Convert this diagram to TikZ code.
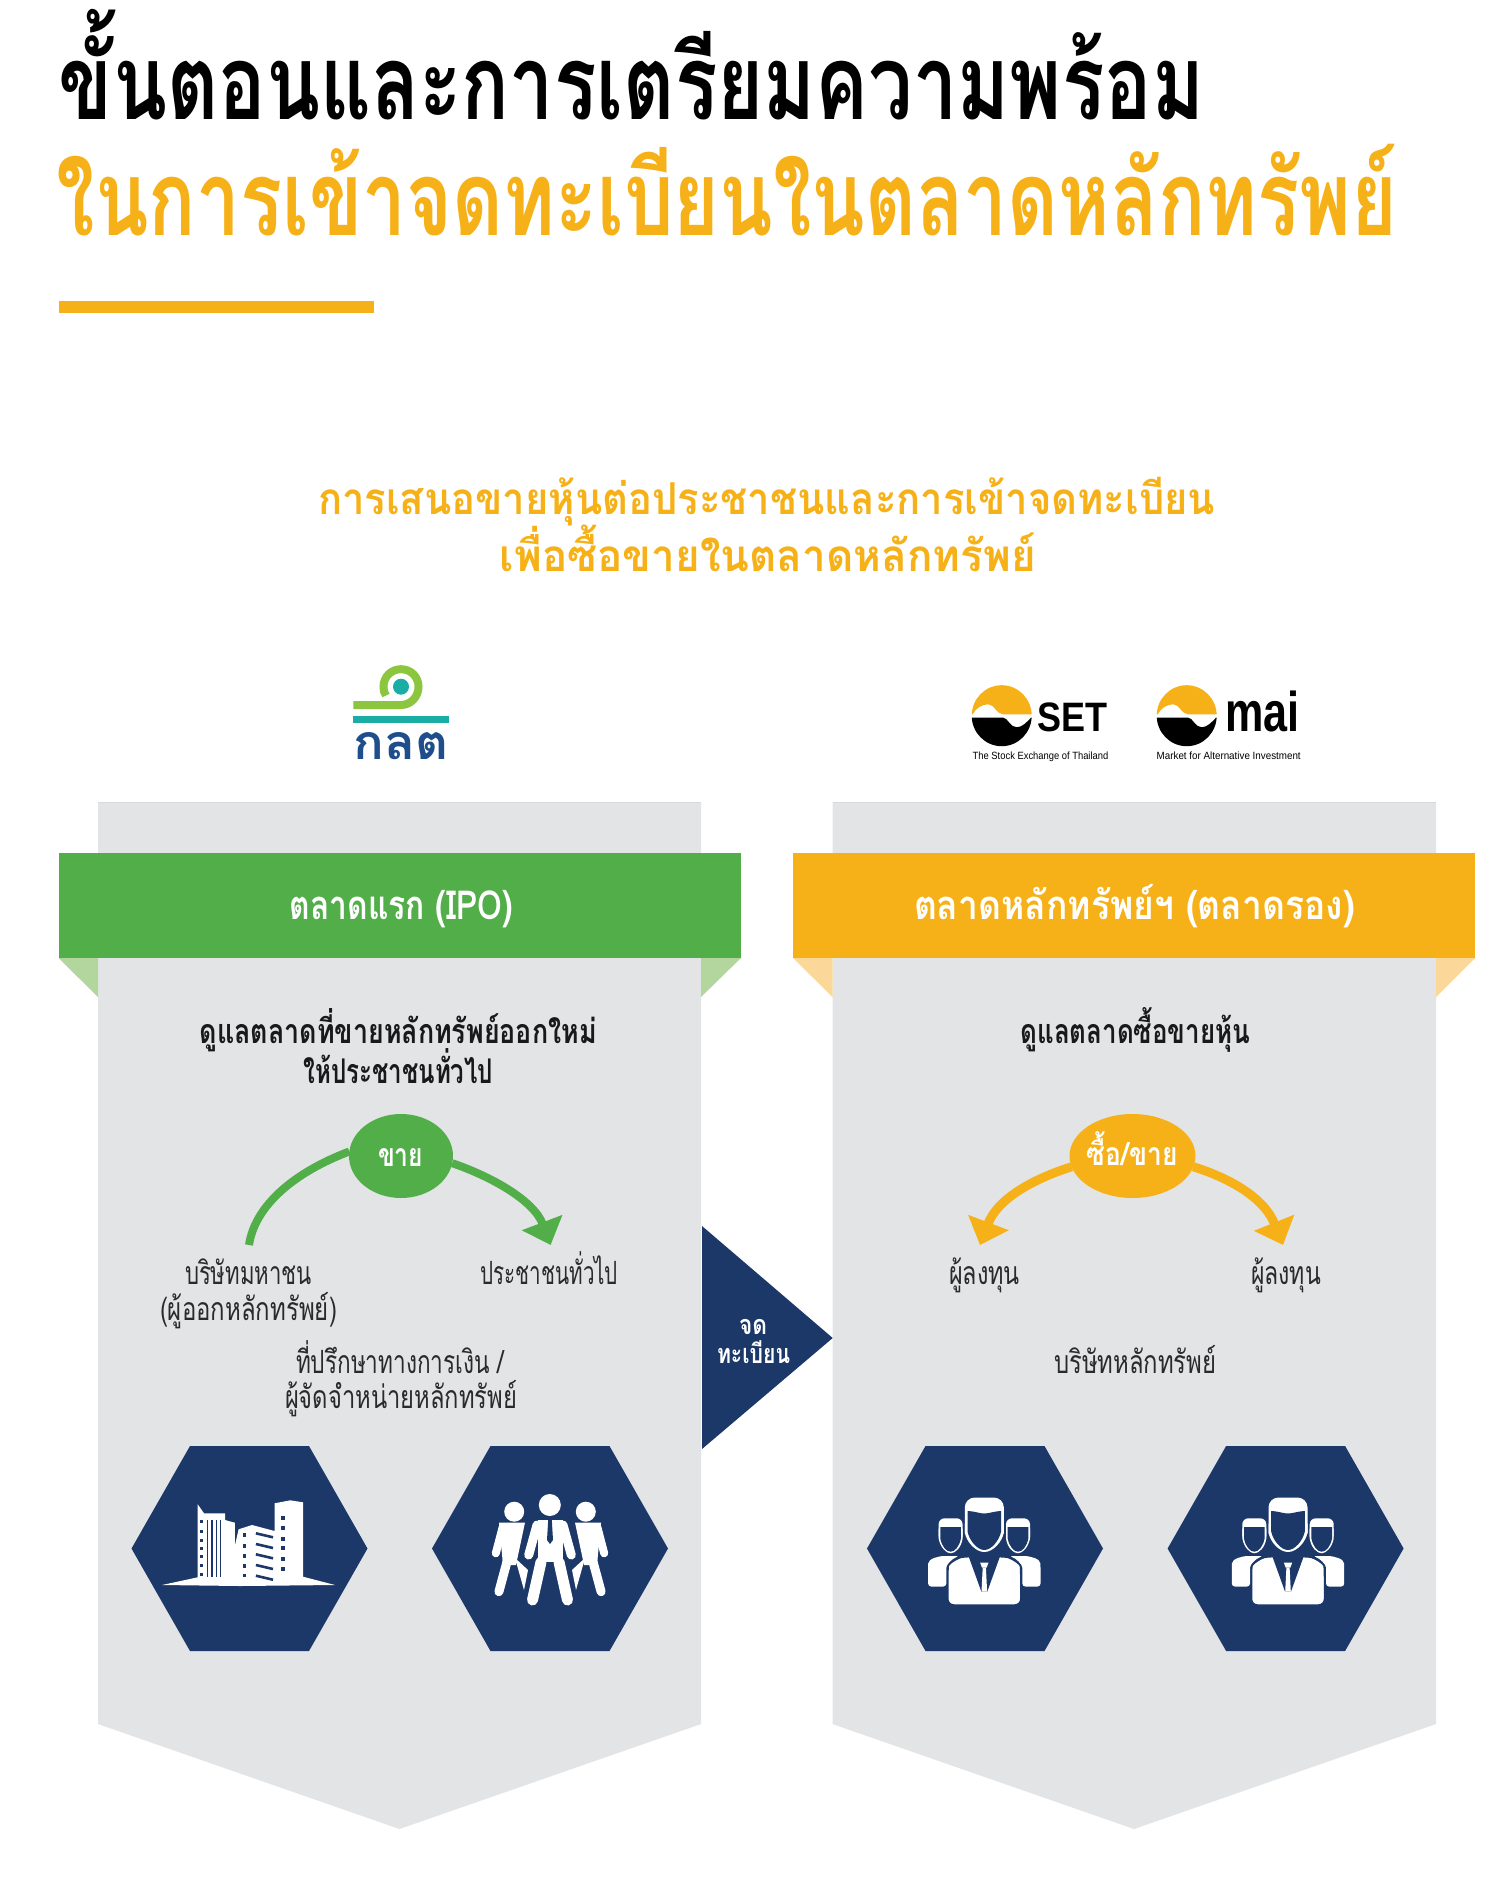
\documentclass[tikz,border=0pt]{standalone}
\usepackage{fontspec}
\usepackage{graphicx}
\usetikzlibrary{shapes.geometric,arrows.meta}
\newfontfamily\thai[Script=Thai]{Loma}
\newfontfamily\latinf{Liberation Sans}
\definecolor{cgreen}{HTML}{52AE49}
\definecolor{corange}{HTML}{F7B118}
\definecolor{cnavy}{HTML}{1B3869}
\definecolor{cgrey}{HTML}{E3E4E6}
\definecolor{cgreenl}{HTML}{B3D69E}
\definecolor{corangel}{HTML}{FBD89A}
\definecolor{cswirl}{HTML}{8CC63F}
\definecolor{cteal}{HTML}{1AADA5}
\definecolor{cblue}{HTML}{1E4E8C}
\definecolor{cdark}{HTML}{2A2A2A}
% width in px, font size in px, text
\newcommand{\fitw}[3]{\resizebox{#1pt}{\height}{\fontsize{#2pt}{#2pt}\selectfont #3}}
\tikzset{
  txt/.style={anchor=base,inner sep=0pt,outer sep=0pt},
  pillnode/.style={ellipse,inner sep=0pt,outer sep=0pt},
  hexa/.pic={\fill[cnavy] (-118,0)--(-59.5,-102.5)--(59.5,-102.5)--(118,0)--(59.5,102.5)--(-59.5,102.5)--cycle;},
  biz/.pic={
    % side persons
    \foreach \s in {-1,1}{
      \fill[white,rounded corners=6pt] (\s*21.7,-12) -- (\s*21.7,-30.2) -- (\s*45.7,-30.2) -- (\s*45.7,-12);
      \fill[white] (\s*21.7,-20) -- (\s*45.7,-20) -- (\s*45.7,-10) .. controls (\s*44,-1) and (\s*38,4.8) .. (\s*33.7,4.8) .. controls (\s*29,4.8) and (\s*23,-1) .. (\s*21.7,-10) -- cycle;
      \fill[cnavy] (\s*23.4,-21.5) -- (\s*44,-21.5) -- (\s*44,-10) .. controls (\s*42.5,-2) and (\s*38,3.2) .. (\s*33.7,3.2) .. controls (\s*29.5,3.2) and (\s*25,-2) .. (\s*23.4,-10) -- cycle;
      \fill[white,rounded corners=3pt] (\s*56.2,38) -- (\s*56.2,18) .. controls (\s*56,10) and (\s*45,7.5) .. (\s*37,7.5) -- (\s*25,7.5) .. controls (\s*32,10) and (\s*38,16) .. (\s*38,22) -- (\s*38,38) -- cycle;
    }
    % main head
    \fill[white,rounded corners=10pt] (-19.5,-15) -- (-19.5,-51) -- (19.5,-51) -- (19.5,-15);
    \fill[white] (-19.5,-25) -- (19.5,-25) -- (19.5,-16) .. controls (18,-7) and (9,3.5) .. (0,3.5) .. controls (-9,3.5) and (-18,-7) .. (-19.5,-16) -- cycle;
    \fill[cnavy] (-16.8,-37.5) .. controls (-8,-37) and (-5,-35) .. (0,-35) .. controls (5,-35) and (8,-37) .. (16.8,-37.5) -- (16.8,-17) .. controls (15,-8) and (7,1.5) .. (0,1.5) .. controls (-7,1.5) and (-15,-8) .. (-16.8,-17) -- cycle;
    % main body
    \path[draw=cnavy,line width=1.5pt,fill=white,rounded corners=6pt] (-36.5,56.5) -- (-36.5,24) .. controls (-36,15) and (-26,9) .. (-16,8) -- (16,8) .. controls (26,9) and (36,15) .. (36.5,24) -- (36.5,56.5) -- cycle;
    \fill[cnavy] (-16,7) -- (16,7) -- (3,43) -- (-3,43) -- cycle;
    \fill[white] (-4.2,14) -- (4.2,14) -- (2.4,19) -- (-2.4,19) -- cycle;
    \fill[white] (-1.6,19) -- (1.6,19) -- (2.8,43) -- (-2.8,43) -- cycle;
  }
}
\begin{document}
\begin{tikzpicture}[x=1pt,y=-1pt]
\useasboundingbox (0,0) rectangle (1500,1881);
\fill[white] (0,0) rectangle (1500,1881);

% titles
\node[txt,text=black] (t1) at (631.5,120) {\fitw{1145}{104}{\thai\bfseries ขั้นตอนและการเตรียมความพร้อม}};
\node[txt,text=corange] (t2) at (727,235) {\fitw{1340}{104}{\thai\bfseries ในการเข้าจดทะเบียนในตลาดหลักทรัพย์}};
\fill[corange] (59,301) rectangle (374,313);
\node[txt,text=corange] (s1) at (766.5,514) {\fitw{897}{44}{\thai\bfseries การเสนอขายหุ้นต่อประชาชนและการเข้าจดทะเบียน}};
\node[txt,text=corange] (s2) at (768,571) {\fitw{536}{44}{\thai\bfseries เพื่อซื้อขายในตลาดหลักทรัพย์}};

% SEC logo
\draw[cswirl,line width=8pt] (353.3,705) -- (401,705) .. controls (410.9,705) and (418.5,696.6) .. (418.5,686.7) .. controls (418.5,676.8) and (410.9,669.2) .. (401,669.2) .. controls (391.1,669.2) and (383.5,676.8) .. (383.5,686.7) .. controls (383.5,690) and (384,693) .. (386,695.5);
\fill[cteal] (401,686.7) circle[radius=8];
\fill[cteal] (353.3,716) rectangle (449,723.3);
\node[txt,text=cblue] (seclogo) at (401,759) {\resizebox{95pt}{27pt}{\thai\bfseries กลต}};

% SET and mai logos
\foreach \dx/\nm in {0/a,185/b}{
  \begin{scope}[shift={(\dx,0)}]
    \begin{scope}
      \clip (1001.7,715.7) ellipse[x radius=30,y radius=30.5];
      \fill[corange] (965,714.3) -- (972.7,714.3) .. controls (976,708) and (982,704.3) .. (988.3,704.3) .. controls (994,704.3) and (997,714.3) .. (1003,714.3) -- (1040,714.3) -- (1040,680) -- (965,680) -- cycle;
      \fill[black] (965,717.7) -- (1003.3,717.7) .. controls (1008,718) and (1010,727.3) .. (1016.7,727.3) .. controls (1022,727.3) and (1027,722) .. (1031,717.7) -- (1040,717.7) -- (1040,750) -- (965,750) -- cycle;
    \end{scope}
  \end{scope}
}
\node[txt,anchor=base west] (setword) at (1037.3,731) {\resizebox{70pt}{28.7pt}{\latinf\bfseries SET}};
\node[txt,anchor=base west] (setcap) at (972.7,759) {\fitw{135.6}{10.5}{\latinf The Stock Exchange of Thailand}};
\node[txt,anchor=base west] (maiword) at (1225,731) {\resizebox{74.3pt}{\height}{\fontsize{56pt}{56pt}\selectfont\latinf\bfseries mai}};
\node[txt,anchor=base west] (maicap) at (1156.7,759) {\fitw{144}{10.5}{\latinf Market for Alternative Investment}};

% panels
\fill[cgrey] (98,802) -- (701,802) -- (701,1724) -- (399.5,1829) -- (98,1724) -- cycle;
\fill[cgrey] (832.5,802) -- (1436,802) -- (1436,1724) -- (1134,1829) -- (832.5,1724) -- cycle;
\draw[black!15,line width=1pt] (98,802) -- (701,802);
\draw[black!15,line width=1pt] (832.5,802) -- (1436,802);

% fold triangles
\fill[cgreenl] (58.5,958) -- (98,958) -- (98,997) -- cycle;
\fill[cgreenl] (741,958) -- (701,958) -- (701,997) -- cycle;
\fill[corangel] (793,958) -- (832.5,958) -- (832.5,997) -- cycle;
\fill[corangel] (1475,958) -- (1436,958) -- (1436,997) -- cycle;

% banners
\fill[cgreen] (58.5,852.7) rectangle (741,958);
\fill[corange] (793,852.7) rectangle (1475,958);
\node[txt,text=white] (b1) at (401.5,919) {\fitw{223}{40}{\thai\bfseries ตลาดแรก (IPO)}};
\node[txt,text=white] (b2) at (1134.5,919) {\fitw{441}{40}{\thai\bfseries ตลาดหลักทรัพย์ฯ (ตลาดรอง)}};

% panel headings
\node[txt,text=cdark!60!black] (h1) at (398.3,1043) {\fitw{397}{34}{\thai\bfseries ดูแลตลาดที่ขายหลักทรัพย์ออกใหม่}};
\node[txt,text=cdark!60!black] (h2) at (398.3,1083) {\fitw{189.5}{34}{\thai\bfseries ให้ประชาชนทั่วไป}};
\node[txt,text=cdark!60!black] (h3) at (1135.3,1043) {\fitw{229.5}{34}{\thai\bfseries ดูแลตลาดซื้อขายหุ้น}};

% flow bubbles and arrows
\node[pillnode,fill=cgreen,minimum width=104pt,minimum height=84pt] (sell) at (401,1156) {};
\node[pillnode,fill=corange,minimum width=126pt,minimum height=84pt] (trade) at (1132.5,1156) {};
\coordinate (corpend) at (249,1245);
\coordinate (pubtip) at (550.6,1245);
\coordinate (invl) at (980,1245);
\coordinate (invr) at (1283,1245);
\draw[cgreen,line width=8pt] (sell.175) .. controls (295,1172) and (255,1205) .. (corpend);
\draw[cgreen,line width=8pt,-{Triangle[length=24pt,width=42pt]}] (sell.-8) .. controls (490,1176) and (533.6,1200) .. (pubtip);
\draw[corange,line width=9pt,-{Triangle[length=24pt,width=42pt]}] (trade.190) .. controls (1030,1180) and (997,1200) .. (invl);
\draw[corange,line width=9pt,-{Triangle[length=24pt,width=42pt]}] (trade.-10) .. controls (1235,1180) and (1265,1200) .. (invr);
\node[txt,text=white] (sellt) at (400.5,1166) {\fitw{45}{32}{\thai\bfseries ขาย}};
\node[txt,text=white] (tradet) at (1132.2,1165) {\fitw{90.5}{32}{\thai\bfseries ซื้อ/ขาย}};

% labels left
\node[txt,text=cdark] (l1) at (248.5,1284) {\fitw{127}{32}{\thai บริษัทมหาชน}};
\node[txt,text=cdark] (l2) at (248.5,1320) {\fitw{177}{32}{\thai (ผู้ออกหลักทรัพย์)}};
\node[txt,text=cdark] (l3) at (549.3,1284) {\fitw{137.4}{32}{\thai ประชาชนทั่วไป}};
\node[txt,text=cdark] (l4) at (400,1373) {\fitw{208}{32}{\thai ที่ปรึกษาทางการเงิน /}};
\node[txt,text=cdark] (l5) at (401,1408) {\fitw{232}{32}{\thai ผู้จัดจำหน่ายหลักทรัพย์}};
% labels right
\node[txt,text=cdark] (r1) at (984.5,1284) {\fitw{71}{32}{\thai ผู้ลงทุน}};
\node[txt,text=cdark] (r2) at (1286,1284) {\fitw{70}{32}{\thai ผู้ลงทุน}};
\node[txt,text=cdark] (r3) at (1135.3,1373) {\fitw{162.5}{32}{\thai บริษัทหลักทรัพย์}};

% listing triangle
\fill[cnavy] (702,1226) -- (832.7,1338) -- (702,1449) -- cycle;
\node[txt,text=white] (k1) at (753,1334) {\fitw{28}{27}{\thai\bfseries จด}};
\node[txt,text=white] (k2) at (753.5,1363) {\fitw{73}{27}{\thai\bfseries ทะเบียน}};

% hexagons
\pic at (249.5,1548.5) {hexa};
\pic at (550,1548.5) {hexa};
\pic at (985,1548.5) {hexa};
\pic at (1285.6,1548.5) {hexa};

% building icon
\fill[white] (162,1585) -- (197.7,1577.3) -- (197.7,1504.3) -- (204,1513.3) -- (225,1513.3) -- (225,1520) -- (234.8,1522.7) -- (234.8,1546) -- (238.6,1529.3) -- (252,1525) -- (274.6,1531) -- (274.6,1503.3) -- (290.3,1500.3) -- (303,1502.3) -- (303,1576.7) -- (335,1585) -- (240,1586) -- cycle;
\foreach \yy in {1521.7,1531,1540,1548.3,1556.7,1565,1574}{\fill[cnavy] (199.5,\yy-1.5) rectangle ++(3,3);}
\foreach \xx in {207.3,211.8,216.4,220.6}{\fill[cnavy] (\xx-0.8,1520) rectangle (\xx+0.8,1577);}
\foreach \yy in {1535,1545.7,1556,1565.7,1575.3}{\fill[cnavy] (242.6,\yy-1.8) rectangle ++(3.6,3.6);}
\foreach \yy in {1533.3,1544,1554.3,1565,1575.7}{\draw[cnavy,line width=2.6pt] (255.9,\yy) -- (273,\yy+4);}
\foreach \yy in {1518.3,1528.3,1539,1548.3,1559,1569}{\fill[cnavy] (280.6,\yy-2) rectangle ++(4,4);}

% walking people icon
\foreach \s/\cx in {1/550,-1/550}{
  \begin{scope}[line cap=round,white]
    \fill[white] ({\cx+\s*(514.2-550)},1511.7) circle[radius=10];
    \draw[line width=8pt] ({\cx+\s*(502.7-550)},1527) -- ({\cx+\s*(495.8-550)},1553.3);
    \fill[white] ({\cx+\s*(499-550)},1522.5) -- ({\cx+\s*(525-550)},1522.5) -- ({\cx+\s*(516-550)},1565) -- ({\cx+\s*(503-550)},1565) -- cycle;
    \draw[line width=9pt] ({\cx+\s*(508-550)},1558) -- ({\cx+\s*(498.9-550)},1591.7);
    \fill[white] ({\cx+\s*(515-550)},1558) -- ({\cx+\s*(524-550)},1590) -- ({\cx+\s*(528-550)},1570) -- cycle;
  \end{scope}
}
\begin{scope}[line cap=round]
  \fill[white] (549.8,1505) circle[radius=11];
  \foreach \s in {-1,1}{
    \draw[cnavy,line width=13pt] ({550+\s*13},1525) -- ({550+\s*21.3},1555);
    \draw[white,line width=9pt] ({550+\s*13},1525) -- ({550+\s*21.3},1555);
    \draw[cnavy,line width=14pt] ({550+\s*9},1562) -- ({550+\s*17.5},1600);
    \draw[white,line width=11pt] ({550+\s*9},1562) -- ({550+\s*17.5},1600);
  }
  \fill[white] (537.5,1520) -- (562.5,1520) -- (562.5,1562) -- (537.5,1562) -- cycle;
  \fill[cnavy] (548.2,1520) -- (551.8,1520) -- (553,1540) -- (550,1544) -- (547,1540) -- cycle;
\end{scope}

% business people icons
\pic at (984.3,1548.5) {biz};
\pic at (1288,1548.5) {biz};
\end{tikzpicture}
\end{document}
